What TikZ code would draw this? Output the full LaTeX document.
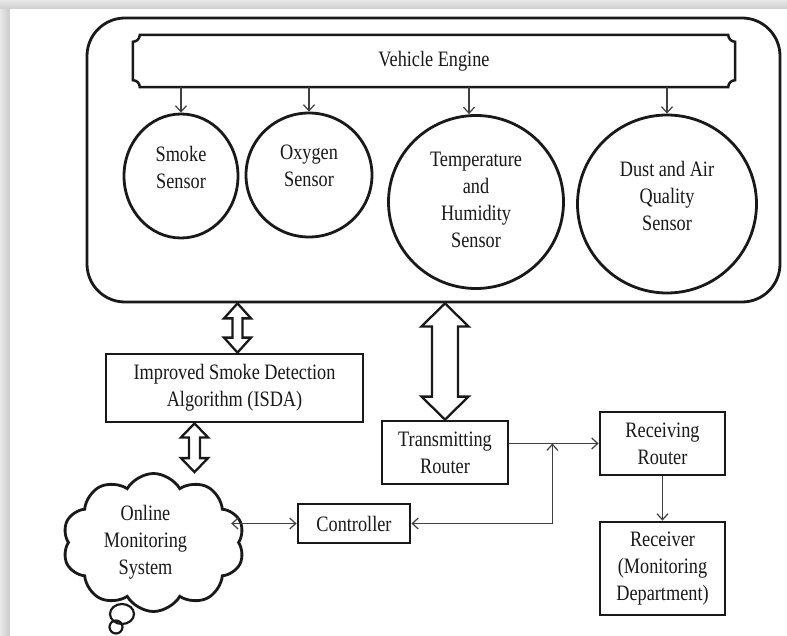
\documentclass[tikz,border=0pt]{standalone}
\usepackage{fontspec}
\setmainfont[FakeStretch=0.83]{Liberation Serif}
\usetikzlibrary{shapes.geometric,shapes.symbols,arrows.meta,calc}

\tikzset{
  lbl/.style={font=\fontsize{22}{27}\selectfont, text=black!90, align=center, inner sep=0pt},
  frame/.style={draw=black!90, line width=2.8pt},
  box/.style={frame, rectangle, lbl},
  sensor/.style={frame, ellipse, inner sep=0pt},
  barb/.tip={Straight Barb[length=6pt,width=11pt]},
  link/.style={draw=black!75, line width=1.2pt, -barb},
  twoway/.style={draw=black!75, line width=1.2pt, barb-barb},
  fat/.style={draw=black!90, line width=2.3pt, fill=white, line join=miter},
}

% hollow two-headed arrow: top tip, bottom tip, shaft half width, head half width, head length
\newcommand\hollowarrow[5]{%
  \draw[fat] (#1) -- ($(#1)+(#4,#5)$) -- ($(#1)+(#3,#5)$) -- ($(#2)+(#3,-#5)$)
    -- ($(#2)+(#4,-#5)$) -- (#2) -- ($(#2)+(-#4,-#5)$) -- ($(#2)+(-#3,-#5)$)
    -- ($(#1)+(-#3,#5)$) -- ($(#1)+(-#4,#5)$) -- cycle;}

\begin{document}
\begin{tikzpicture}[x=1pt,y=-1pt]
\useasboundingbox (0,0) rectangle (787,636);

% card with its shadow edge
\fill[gray!32] (0,0) rectangle (787,636);
\shade[left color=gray!18,right color=gray!42] (0,0) rectangle (10,636);
\shade[top color=gray!18,bottom color=gray!38] (0,0) rectangle (787,9);
\fill[white] (10,9) rectangle (787,636);

% vehicle system enclosure
\node[frame, rounded corners=38pt, minimum width=693pt, minimum height=284pt] (sys) at (433.5,160) {};

% engine plaque
\node[lbl, minimum width=602pt, minimum height=52pt] (eng) at (434,61) {Vehicle Engine};
\draw[frame, line width=2.5pt] ([xshift=7pt]eng.north west) -- ([xshift=-7pt]eng.north east)
  arc[start angle=180,end angle=270,radius=7pt] -- ([yshift=7pt]eng.south east)
  arc[start angle=90,end angle=180,radius=7pt] -- ([xshift=7pt]eng.south west)
  arc[start angle=0,end angle=90,radius=7pt] -- ([yshift=-7pt]eng.north west)
  arc[start angle=270,end angle=360,radius=7pt] -- cycle;

% sensors
\node[sensor, minimum width=114pt, minimum height=124pt] (smoke) at (181,176) {};
\node[lbl] (smoke-l) at ([yshift=9pt]smoke.center) {Smoke\\Sensor};
\node[sensor, minimum width=126pt, minimum height=124pt] (oxy) at (309,175) {};
\node[lbl] (oxy-l) at ([yshift=9pt]oxy.center) {Oxygen\\Sensor};
\node[sensor, minimum width=175pt, minimum height=173pt] (temp) at (476,202) {};
\node[lbl] (temp-l) at ([yshift=2pt]temp.center) {Temperature\\and\\Humidity\\Sensor};
\node[sensor, minimum width=179pt, minimum height=178pt] (dust) at (667,204) {};
\node[lbl] (dust-l) at ([yshift=8pt]dust.center) {Dust and Air\\Quality\\Sensor};

\draw[link] (eng.south -| smoke.north) -- (smoke.north);
\draw[link] (eng.south -| oxy.north) -- (oxy.north);
\draw[link] ([xshift=-7pt]eng.south -| temp.north) -- ([xshift=-7pt]temp.north);
\draw[link] (eng.south -| dust.north) -- (dust.north);

% processing and network blocks
\node[box, minimum width=257pt, minimum height=68pt] (isda) at (234.5,388)
  {Improved Smoke Detection\\Algorithm (ISDA)};
\node[box, minimum width=126pt, minimum height=63pt] (trr) at (445,452.5) {Transmitting\\Router};
\node[box, minimum width=125pt, minimum height=63pt] (rr) at (662.5,443.5) {Receiving\\Router};
\node[box, minimum width=125pt, minimum height=93pt] (rcv) at (662.5,568.5)
  {Receiver\\(Monitoring\\Department)};
\node[box, minimum width=112pt, minimum height=39pt] (ctrl) at (354,523.5) {Controller};

% online monitoring cloud
\node[frame, cloud, cloud puffs=10, cloud puff arc=120, aspect=1.3, cloud ignores aspect,
      minimum width=182pt, minimum height=138pt, inner sep=0pt] (cloud) at (153.5,542.5) {};
\node[lbl] (cloud-l) at ([xshift=-8pt]cloud.center) {Online\\Monitoring\\System};
\draw[frame, line width=2.2pt] (122,614) ellipse [x radius=12pt, y radius=10pt];
\draw[frame, line width=2.2pt] (116,627) circle [radius=6.5pt];

% hollow data links
\coordinate (a1t) at ([xshift=3pt]isda.north |- sys.south);
\coordinate (a1b) at ([xshift=3pt]isda.north);
\hollowarrow{a1t}{a1b}{5}{13.5}{15}
\coordinate (a2t) at (trr.north |- sys.south);
\coordinate (a2b) at (trr.north);
\hollowarrow{a2t}{a2b}{13}{23.5}{23}
\coordinate (a3t) at ([xshift=-40pt]isda.south);
\coordinate (a3b) at (a3t |- cloud.north);
\hollowarrow{a3t}{a3b}{5.5}{13.5}{14}

% signal lines
\coordinate (j) at ([xshift=43pt]trr.east |- rr.west);
\draw[link] (trr.east |- rr.west) -- (rr.west);
\draw[twoway] (ctrl.east) -| (j);
\draw[twoway] ([xshift=-9pt]ctrl.west -| cloud.east) -- (ctrl.west);
\draw[link] (rr.south) -- (rcv.north);
\end{tikzpicture}
\end{document}
